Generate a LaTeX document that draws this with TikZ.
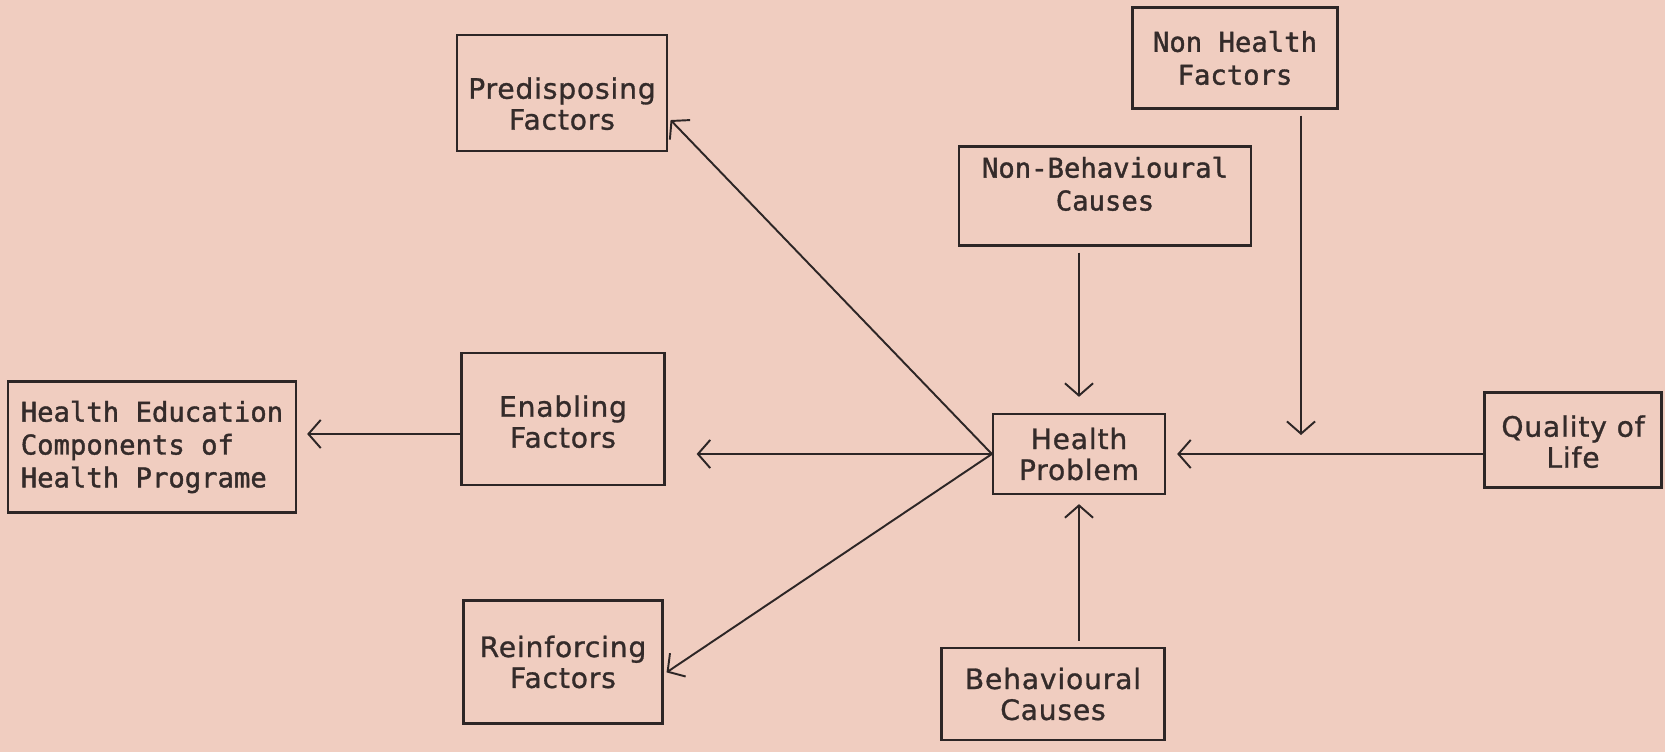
\documentclass[tikz,border=0pt]{standalone}
\usepackage{fontspec}
\newfontfamily\typewide[FakeBold=1.4]{DejaVu Sans Mono}
\newfontfamily\typenarrow[LetterSpace=3,FakeBold=1.0]{DejaVu Sans}
\usepackage{tikz}
\usetikzlibrary{arrows.meta,positioning}
\usepackage{xcolor}
\definecolor{paper}{RGB}{240,205,192}
\definecolor{ink}{RGB}{45,38,38}
\definecolor{typeink}{RGB}{52,43,42}

% text of a box, moved up or down inside it
\newcommand{\moved}[2]{\raisebox{#1}[\height][\depth]{\begin{tabular}{@{}c@{}}#2\end{tabular}}}

\begin{document}
\begin{tikzpicture}[
    box/.style={draw=ink, line width=1.3pt, align=center, inner sep=2pt, text=typeink},
    wide/.style={font={\typewide\fontsize{15.5pt}{18.7pt}\selectfont}},
    narrow/.style={font={\typenarrow\fontsize{16pt}{17.6pt}\selectfont}},
    arr/.style={-{Straight Barb[length=7pt,width=16pt]}, line width=1.1pt, draw=ink}
  ]

  \useasboundingbox (0,0) rectangle (33.3,-15.04);
  \fill[paper] (0,0) rectangle (33.3,-15.04);

  %% ---- factor column ----
  \node[box, narrow, minimum width=4.2cm,  minimum height=2.32cm] (pre)   at (11.24,-1.86)  {\moved{-0.3cm}{Predisposing\\Factors}};
  \node[box, narrow, minimum width=4.06cm, minimum height=2.64cm] (enab)  at (11.26,-8.38)  {\moved{-0.14cm}{Enabling\\Factors}};
  \node[box, narrow, minimum width=3.98cm, minimum height=2.46cm] (reinf) at (11.26,-13.24) {Reinforcing\\Factors};

  \node[box, wide, align=left, minimum width=5.76cm, minimum height=2.62cm] (hedu) at (3.04,-8.94)
    {Health Education\\Components of\\Health Programe};

  %% ---- causes round the problem ----
  \node[box, narrow, minimum width=3.44cm, minimum height=1.6cm]  (hprob)     at (21.58,-9.08)  {Health\\Problem};
  \node[box, wide,   minimum width=5.84cm, minimum height=1.98cm] (nonbeh)    at (22.10,-3.92)  {\moved{0.17cm}{Non-Behavioural\\Causes}};
  \node[box, wide,   minimum width=4.1cm,  minimum height=2.02cm] (nonhealth) at (24.70,-1.16)  {Non Health\\Factors};
  \node[box, narrow, minimum width=4.46cm, minimum height=1.84cm] (behav)     at (21.06,-13.88) {Behavioural\\Causes};
  \node[box, narrow, minimum width=3.54cm, minimum height=1.9cm]  (qlife)     at (31.46,-8.80)  {\moved{-0.12cm}{Quality of\\Life}};

  \coordinate (nhend) at (26.02,-8.70);

  %% ---- arrows ----
  \draw[arr, shorten >=2pt]    (hprob.west) -- (pre.-13);
  \draw[arr, shorten >=0.62cm] (hprob.west) -- (hprob.west -| enab.east);
  \draw[arr, shorten >=2pt]    (hprob.west) -- (reinf.-7);
  \draw[arr, shorten >=0.2cm]  ([yshift=-0.3cm]enab.west) -- ([yshift=-0.3cm]enab.west -| hedu.east);

  \draw[arr, shorten <=0.12cm, shorten >=0.32cm] (hprob.north |- nonbeh.south) -- (hprob.north);
  \draw[arr, shorten <=0.12cm] (nhend |- nonhealth.south) -- (nhend);
  \draw[arr, shorten >=0.22cm] (qlife.west |- hprob.east) -- (hprob.east);
  \draw[arr, shorten <=0.12cm, shorten >=0.18cm] (hprob.south |- behav.north) -- (hprob.south);

\end{tikzpicture}
\end{document}
